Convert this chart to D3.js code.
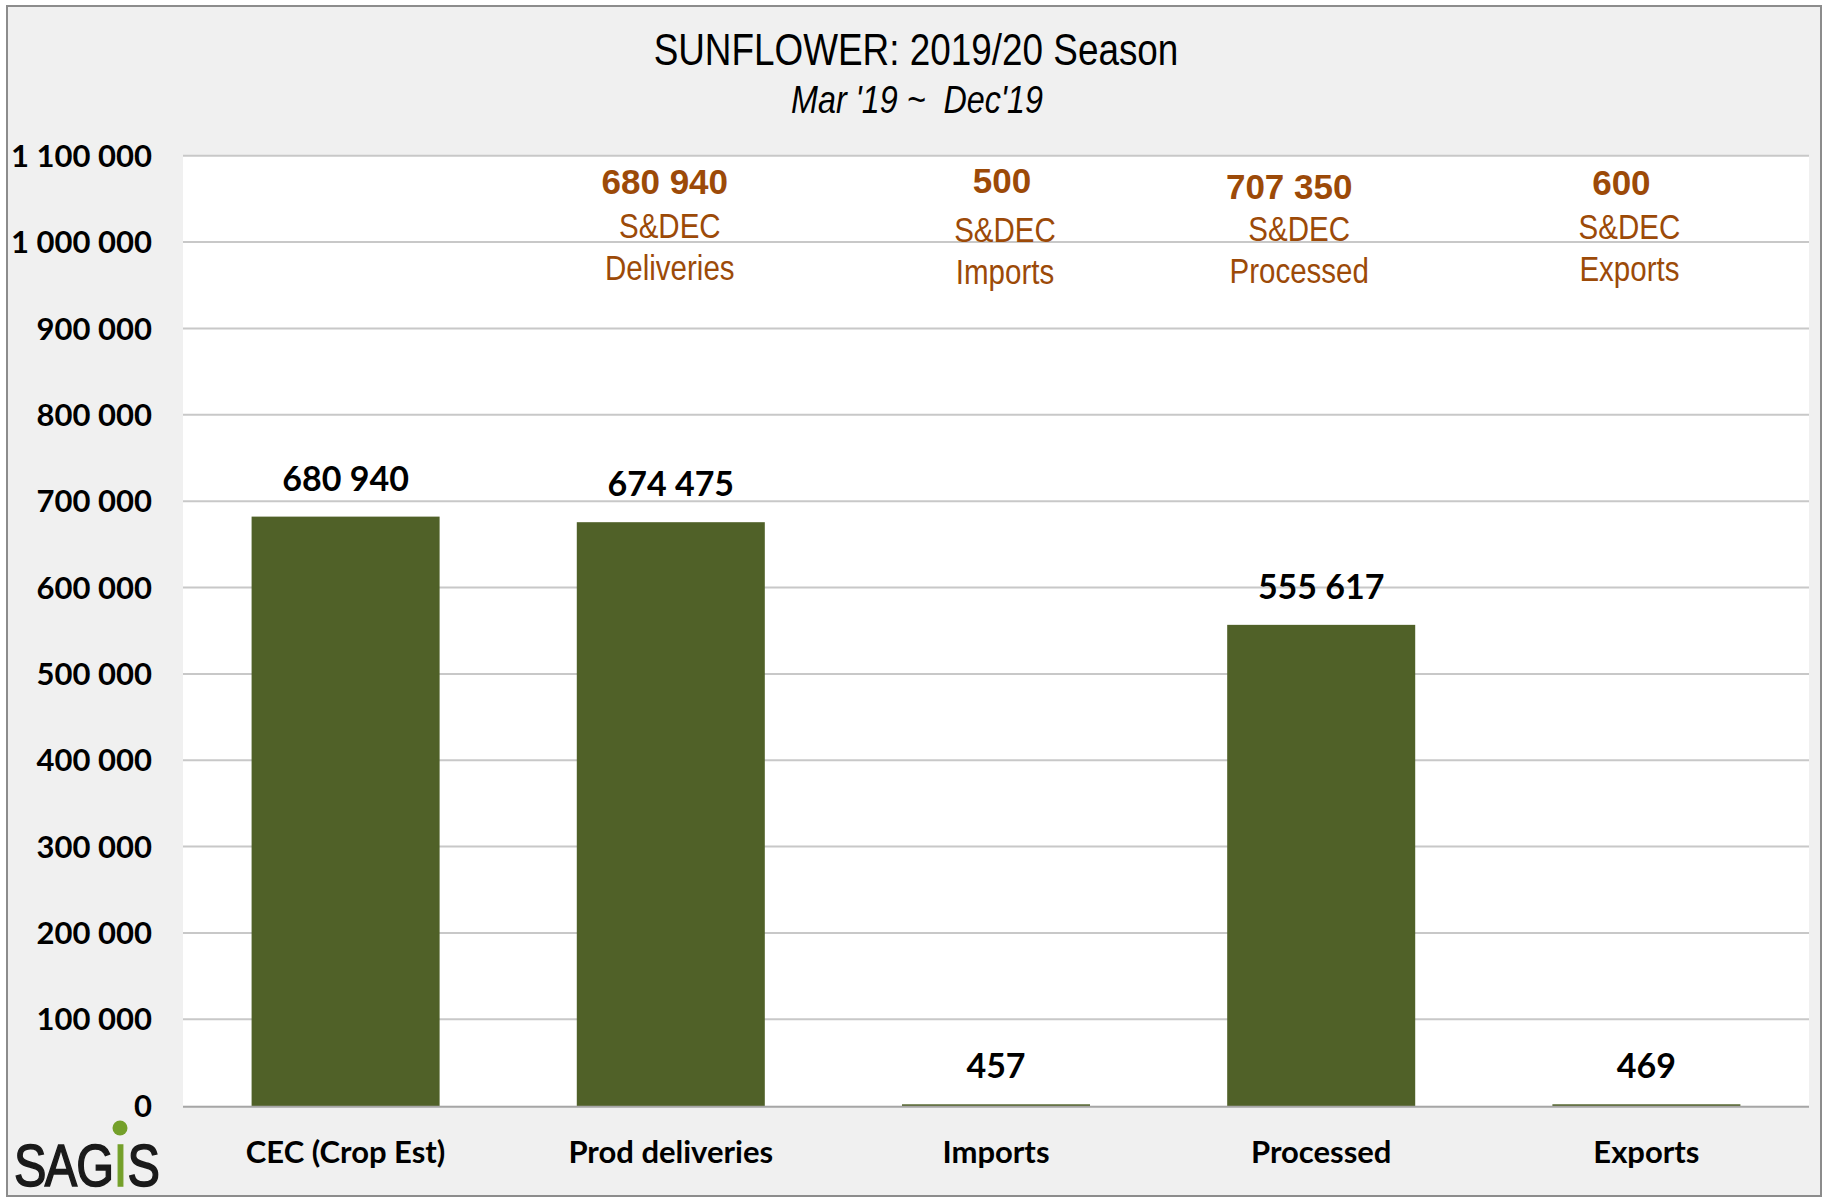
<!DOCTYPE html>
<html lang="en">
<head>
    <meta charset="utf-8">
    <title>Sunflower 2019/20 Season</title>
    <script src="https://cdn.jsdelivr.net/npm/d3@7"></script>
    <style>
    body { margin: 0; background: #ffffff; }
    text { white-space: pre; }
    .tick-label { font-family: Lato, "Liberation Sans", sans-serif; font-weight: bold; font-size: 31px; fill: #000; }
    .cat-label { font-family: Lato, "Liberation Sans", sans-serif; font-weight: bold; font-size: 31px; fill: #000; }
    .bar-label { font-family: Lato, "Liberation Sans", sans-serif; font-weight: bold; font-size: 34px; fill: #000; }
    .note { font-family: "Liberation Sans", sans-serif; fill: #9c4a08; font-size: 36px; }
    .note-num { font-family: "Liberation Sans", sans-serif; font-weight: bold; font-size: 35px; fill: #9c4a08; }
    </style>
</head>
<body>
<script>
    var w = 1825;
    var h = 1198;

    // chart data
    var categories = ["CEC (Crop Est)", "Prod deliveries", "Imports", "Processed", "Exports"];
    var values = [680940, 674475, 457, 555617, 469];
    var yTicks = [0, 100000, 200000, 300000, 400000, 500000, 600000, 700000, 800000, 900000, 1000000, 1100000];

    // S&DEC notes above the bars (none over the first one)
    var noteCats = ["Prod deliveries", "Imports", "Processed", "Exports"];
    var noteValues = [680940, 500, 707350, 600];
    var noteNames = ["Deliveries", "Imports", "Processed", "Exports"];
    // the text boxes sit a little off the bar centres in the original sheet
    var numDx = [-6, 6, -32, -25];
    var numDy = [0, -1, 5, 1];
    var textDx = [-1, 9, -22, -17];
    var textDy = [1, 5, 4, 2];

    var narrow = 0.82;   // no Arial Narrow here, so squeeze Liberation Sans

    var margin = {left: 183, right: 16, top: 155.7, bottom: 92.3};

    var svg = d3.select("body")
                .append("svg")
                .attr("width", w)
                .attr("height", h);

    // frame
    svg.append("rect")
       .attr("x", 7).attr("y", 6)
       .attr("width", 1814).attr("height", 1190)
       .attr("fill", "#f0f0f0")
       .attr("stroke", "#8c8c8c")
       .attr("stroke-width", 2);

    var x = d3.scaleBand()
              .domain(categories)
              .range([margin.left, w - margin.right])
              .paddingInner(0.428)
              .paddingOuter(0.214);

    var y = d3.scaleLinear()
              .domain([0, 1100000])
              .range([h - margin.bottom, margin.top]);

    var fmt = function(v) { return d3.format(",")(v).replace(/,/g, " "); };
    var mid = function(c) { return x(c) + x.bandwidth() / 2; };

    // plot area
    svg.append("rect")
       .attr("x", margin.left).attr("y", margin.top)
       .attr("width", w - margin.right - margin.left)
       .attr("height", y(0) - margin.top)
       .attr("fill", "#ffffff");

    // gridlines
    svg.append("g")
       .selectAll("line")
       .data(yTicks.filter(function(d) { return d > 0; }))
       .enter()
       .append("line")
       .attr("x1", margin.left).attr("x2", w - margin.right)
       .attr("y1", function(d) { return y(d); })
       .attr("y2", function(d) { return y(d); })
       .attr("stroke", "#c8c8c8")
       .attr("stroke-width", 2);

    // y labels
    svg.append("g")
       .selectAll("text")
       .data(yTicks)
       .enter()
       .append("text")
       .attr("class", "tick-label")
       .attr("x", 152)
       .attr("y", function(d) { return y(d); })
       .attr("dy", "0.36em")
       .attr("text-anchor", "end")
       .text(fmt);

    // bars (thin stroke keeps the tiny ones visible, like Excel does)
    svg.append("g")
       .selectAll("rect")
       .data(values)
       .enter()
       .append("rect")
       .attr("x", function(d, i) { return x(categories[i]); })
       .attr("y", function(d) { return y(d); })
       .attr("width", x.bandwidth())
       .attr("height", function(d) { return y(0) - y(d); })
       .attr("fill", "#506128")
       .attr("stroke", "#506128")
       .attr("stroke-width", 2);

    // base line
    svg.append("line")
       .attr("x1", margin.left).attr("x2", w - margin.right)
       .attr("y1", y(0) + 1).attr("y2", y(0) + 1)
       .attr("stroke", "#a6a6a6")
       .attr("stroke-width", 2);

    // value labels
    svg.append("g")
       .selectAll("text")
       .data(values)
       .enter()
       .append("text")
       .attr("class", "bar-label")
       .attr("x", function(d, i) { return mid(categories[i]); })
       .attr("y", function(d) { return Math.min(y(d) - 27, y(0) - 17); })
       .attr("text-anchor", "middle")
       .text(fmt);

    // category labels
    svg.append("g")
       .selectAll("text")
       .data(categories)
       .enter()
       .append("text")
       .attr("class", "cat-label")
       .attr("x", mid)
       .attr("y", 1163)
       .attr("text-anchor", "middle")
       .text(function(d) { return d; });

    // S&DEC notes
    var notes = svg.append("g");

    notes.selectAll("text.note-num")
         .data(noteValues)
         .enter()
         .append("text")
         .attr("class", "note-num")
         .attr("x", function(d, i) { return mid(noteCats[i]) + numDx[i]; })
         .attr("y", function(d, i) { return 194 + numDy[i]; })
         .attr("text-anchor", "middle")
         .text(fmt);

    notes.selectAll("text.sdec")
         .data(noteValues)
         .enter()
         .append("text")
         .attr("class", "note sdec")
         .attr("text-anchor", "middle")
         .attr("transform", function(d, i) {
             return "translate(" + (mid(noteCats[i]) + textDx[i]) + "," + (237 + textDy[i]) + ") scale(" + narrow + ",1)";
         })
         .text("S&DEC");

    notes.selectAll("text.name")
         .data(noteNames)
         .enter()
         .append("text")
         .attr("class", "note name")
         .attr("text-anchor", "middle")
         .attr("transform", function(d, i) {
             return "translate(" + (mid(noteCats[i]) + textDx[i]) + "," + (279 + textDy[i]) + ") scale(" + narrow + ",1)";
         })
         .text(function(d) { return d; });

    // titles
    svg.append("text")
       .attr("transform", "translate(916,65) scale(" + narrow + ",1)")
       .attr("text-anchor", "middle")
       .attr("font-family", "'Liberation Sans', sans-serif")
       .attr("font-size", 45)
       .attr("fill", "#000")
       .text("SUNFLOWER: 2019/20 Season");

    svg.append("text")
       .attr("transform", "translate(917,113) scale(0.85,1)")
       .attr("text-anchor", "middle")
       .attr("font-family", "'Liberation Sans', sans-serif")
       .attr("font-style", "italic")
       .attr("font-size", 38)
       .attr("fill", "#000")
       .text("Mar '19 ~  Dec'19");

    // SAGIS logo
    var logoLetters = ["S", "A", "G", "I", "S"];
    var logoX = [0, 38, 77, 123, 140];
    var logo = svg.append("g").attr("transform", "translate(14,1186) scale(0.81,1)");
    logo.selectAll("text")
        .data(logoLetters)
        .enter()
        .append("text")
        .attr("x", function(d, i) { return logoX[i]; })
        .attr("font-family", "'Liberation Sans', sans-serif")
        .attr("font-size", 60)
        .attr("fill", function(d, i) { return i === 3 ? "#74a02a" : "#1a1a1a"; })
        .attr("stroke", function(d, i) { return i === 3 ? "#74a02a" : "#1a1a1a"; })
        .attr("stroke-width", 1.6)
        .text(function(d) { return d; });
    svg.append("circle")
       .attr("cx", 120).attr("cy", 1128)
       .attr("r", 7.5)
       .attr("fill", "#74a02a");
</script>
</body>
</html>
